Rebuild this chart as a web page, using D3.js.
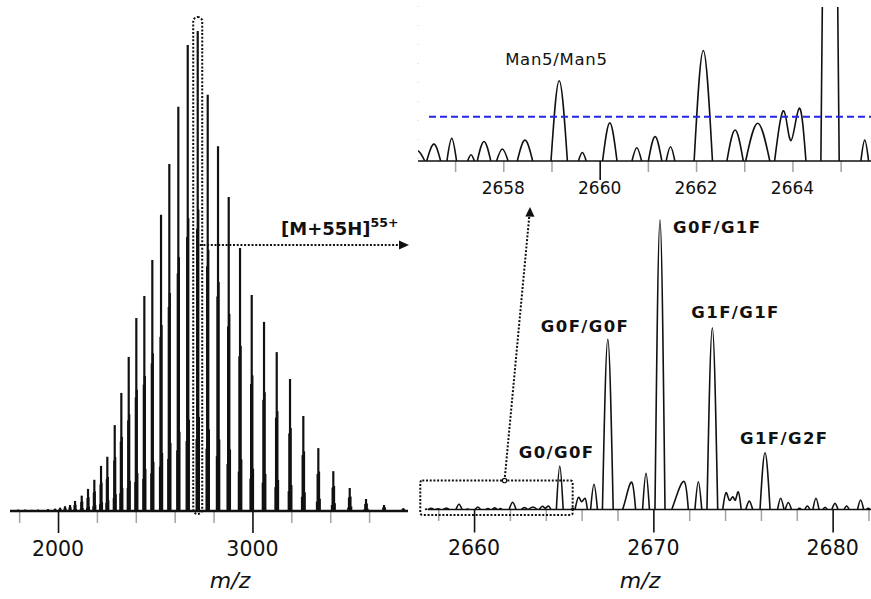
<!DOCTYPE html>
<html>
<head>
<meta charset="utf-8">
<script src="https://cdn.jsdelivr.net/npm/d3@7"></script>
<style>
  html, body { margin: 0; padding: 0; background: #fff; }
  svg { display: block; font-family: "DejaVu Sans", Verdana, sans-serif; }
</style>
</head>
<body>
<svg id="chart" width="871" height="599"></svg>
<script>
// ---- Charge-state envelope of the intact antibody (m/z, relative intensity %) ----
const chargeStateMz = [1794.4, 1830.3, 1864.7, 1897.1, 1948.6, 1984.6, 2010.3, 2036.0, 2061.7, 2087.4,
  2121.9, 2154.3, 2186.7, 2221.2, 2253.6, 2291.6, 2325.6, 2363.6, 2402.7, 2443.9,
  2485.0, 2529.8, 2572.4, 2618.7, 2667.1, 2718.5, 2769.9, 2822.9, 2877.9, 2936.1,
  2996.2, 3059.5, 3124.8, 3193.2, 3261.6, 3338.8, 3415.9, 3500.3, 3584.1, 3676.7, 3775.9];
const chargeStateIntensity = [0.3, 0.3, 0.25, 0.3, 0.4, 0.5, 0.7, 1.0, 1.25, 2.1,
  3.2, 4.6, 6.5, 9.4, 11.3, 17.9, 24.6, 32.1, 40.2, 44.8,
  52.3, 61.7, 72.3, 84.2, 97.1, 100, 86.7, 76.0, 65.4, 54.8,
  45.0, 39.4, 33.1, 27.5, 19.8, 13.1, 8.3, 4.8, 2.5, 1.25, 0.6];
const selectedChargeMz = 2718.5;          // the 55+ ion expanded on the right

// ---- Glycoform peaks of the 55+ charge state ----
const glycoformLabels = ["G0/G0F", "G0F/G0F", "G0F/G1F", "G1F/G1F", "G1F/G2F"];
const glycoformMz = [2664.78, 2667.46, 2670.37, 2673.29, 2676.23];
const glycoformIntensity = [15.0, 58.8, 100, 62.8, 19.6];
const glycoformHalfWidth = [0.19, 0.30, 0.28, 0.30, 0.28];

// Low-abundance species labelled in the expanded view
const minorLabel = "Man5/Man5";
const minorLabelMz = 2659.16;
const minorLabelIntensity = 1.81;

// Threshold drawn across the expanded view (% of base peak)
const thresholdLevel = 1.0;

// ---- Minor profile features: each group is the outline of one peak (m/z, intensity %) ----
const minorPeakProfiles = [
  [[2656.07, 0], [2656.22, 0.23], [2656.37, 0]],
  [[2656.41, 0], [2656.56, 0.38], [2656.70, 0]],
  [[2656.83, 0], [2656.93, 0.51], [2657.03, 0]],
  [[2657.26, 0], [2657.33, 0.14], [2657.40, 0]],
  [[2657.46, 0], [2657.60, 0.44], [2657.74, 0]],
  [[2657.86, 0], [2657.98, 0.27], [2658.10, 0]],
  [[2658.29, 0], [2658.45, 0.47], [2658.61, 0]],
  [[2658.99, 0], [2659.16, 1.81], [2659.33, 0]],
  [[2659.56, 0], [2659.64, 0.19], [2659.72, 0]],
  [[2660.06, 0], [2660.21, 0.86], [2660.36, 0]],
  [[2660.67, 0], [2660.77, 0.30], [2660.87, 0]],
  [[2661.01, 0], [2661.15, 0.55], [2661.29, 0]],
  [[2661.38, 0], [2661.47, 0.32], [2661.56, 0]],
  [[2661.96, 0], [2662.15, 2.49], [2662.34, 0]],
  [[2662.64, 0], [2662.81, 0.70], [2662.98, 0]],
  [[2663.03, 0], [2663.28, 0.85], [2663.53, 0]],
  [[2663.63, 0], [2663.82, 1.13], [2663.97, 0.46], [2664.14, 1.19], [2664.28, 0]],
  [[2665.42, 0], [2665.50, 0.47], [2665.58, 0]],
  [[2665.63, 0], [2665.82, 4.2], [2666.00, 2.7], [2666.19, 3.9], [2666.32, 0]],
  [[2666.50, 0], [2666.69, 8.7], [2666.88, 0]],
  [[2668.29, 0], [2668.48, 4.2], [2668.80, 9.4], [2669.01, 0]],
  [[2669.40, 0], [2669.59, 12.5], [2669.78, 0]],
  [[2671.03, 0], [2671.31, 5.0], [2671.73, 9.6], [2671.95, 0]],
  [[2672.32, 0], [2672.51, 9.6], [2672.70, 0]],
  [[2673.87, 0], [2674.05, 5.8], [2674.24, 3.2], [2674.43, 4.4], [2674.58, 3.3], [2674.74, 6.1], [2674.90, 0]],
  [[2675.16, 0], [2675.35, 2.9], [2675.54, 0]],
  [[2676.93, 0], [2677.10, 3.9], [2677.29, 0]],
  [[2677.36, 0], [2677.53, 2.4], [2677.70, 0]],
  [[2678.05, 0], [2678.15, 0.4], [2678.25, 0]],
  [[2678.45, 0], [2678.59, 1.2], [2678.73, 0]],
  [[2678.90, 0], [2679.07, 3.9], [2679.24, 0]],
  [[2679.46, 0], [2679.58, 0.8], [2679.70, 0]],
  [[2679.96, 0], [2680.13, 2.1], [2680.30, 0]],
  [[2680.64, 0], [2680.78, 1.2], [2680.92, 0]],
  [[2681.39, 0], [2681.56, 3.3], [2681.73, 0]],
  [[2681.89, 0], [2681.99, 0.4], [2682.09, 0]]
];

// ---- Tick values ----
const overviewMajorTicks = [2000, 3000];
const overviewMinorTicks = [1800, 2200, 2400, 2600, 2800, 3200, 3400, 3600];
const zoomMajorTicks = [2660, 2670, 2680];
const zoomMinorTicks = [2658, 2662, 2664, 2666, 2668, 2672, 2674, 2676, 2678, 2682];
const insetMajorTicks = [2660];
const insetMinorTicks = [2657, 2658, 2659, 2661, 2662, 2663, 2664, 2665];
const insetTickLabels = [2658, 2660, 2662, 2664];
const axisTitle = "m/z";

// ---- Layout ----
const ink = "#111";
const svg = d3.select("#chart");

const xL = d3.scaleLinear().domain([1753, 3800]).range([10, 408]);
const yL = d3.scaleLinear().domain([0, 100]).range([511, 31]);
const xR = d3.scaleLinear().domain([2657.43, 2682.14]).range([428, 871]);
const yR = d3.scaleLinear().domain([0, 100]).range([509.5, 220]);
const xI = d3.scaleLinear().domain([2656.23, 2665.63]).range([418, 871]);
const yI = d3.scaleLinear().domain([0, 3.45]).range([161, 8]);

// Tick helper built on d3.axisBottom
function ticks(g, scale, values, size, color, width) {
  g.call(d3.axisBottom(scale).tickValues(values).tickSize(size).tickSizeOuter(0).tickFormat(""));
  g.select(".domain").remove();
  g.selectAll(".tick line").attr("stroke", color).attr("stroke-width", width);
}
function tickLabels(g, scale, values, y, size) {
  g.selectAll("text").data(values).join("text")
    .attr("x", d => scale(d)).attr("y", y)
    .attr("text-anchor", "middle").attr("font-size", size).attr("fill", ink)
    .text(d => d);
}
function applyAttrs(sel, attrs) {
  Object.entries(attrs).forEach(([k, v]) => sel.attr(k, v));
}

// ================= Overview spectrum (left) =================
const left = svg.append("g");
ticks(left.append("g").attr("transform", `translate(0,${yL(0)})`), xL, overviewMinorTicks, 12, "#a3a3a3", 1.5);
ticks(left.append("g").attr("transform", `translate(0,${yL(0)})`), xL, overviewMajorTicks, 22, ink, 1.6);
tickLabels(left.append("g"), xL, overviewMajorTicks, 556, 20.5);

// each charge state is a cluster of glycoform sticks
const refMz = glycoformMz[2];
const order = d3.range(glycoformMz.length).sort((a, b) => glycoformIntensity[a] - glycoformIntensity[b]);
const sticks = [];
chargeStateMz.forEach((mz, i) => {
  order.forEach(g => {
    sticks.push({
      mz: mz + (glycoformMz[g] - refMz) * mz / refMz,
      int: chargeStateIntensity[i] * glycoformIntensity[g] / 100
    });
  });
});
left.append("g").selectAll("line").data(sticks).join("line")
  .attr("x1", d => xL(d.mz)).attr("x2", d => xL(d.mz))
  .attr("y1", yL(0)).attr("y2", d => yL(d.int))
  .attr("stroke", ink).attr("stroke-width", 2.2);

left.append("line")
  .attr("x1", xL.range()[0]).attr("x2", xL.range()[1])
  .attr("y1", yL(0)).attr("y2", yL(0))
  .attr("stroke", ink).attr("stroke-width", 2.6);

left.append("text").attr("x", d3.mean(xL.range()) + 21).attr("y", 588)
  .attr("text-anchor", "middle").attr("font-size", 22).attr("font-style", "italic")
  .attr("fill", ink).text(axisTitle);

// dotted frame around the selected charge state and arrow to the expansion
const dotted = { stroke: ink, "stroke-width": 2, "stroke-dasharray": "2,1.7", fill: "none" };
const selX = xL(selectedChargeMz);
left.append("rect").attr("x", selX - 4.5).attr("y", 17).attr("width", 9).attr("height", 497)
  .attr("rx", 4.5).call(applyAttrs, dotted);
left.append("line").attr("x1", selX + 2).attr("x2", 400).attr("y1", 245).attr("y2", 245)
  .call(applyAttrs, dotted);
left.append("path").attr("d", "M409,245 L399,240.5 L399,249.5 Z").attr("fill", ink);

const chargeLabel = left.append("text").attr("x", 281).attr("y", 235)
  .attr("font-size", 18).attr("font-weight", "bold").attr("fill", ink);
chargeLabel.append("tspan").text("[M+55H]");
chargeLabel.append("tspan").attr("font-size", 12.5).attr("dy", -8).text("55+");

// ================= Expanded 55+ ion (right) =================
const right = svg.append("g");
ticks(right.append("g").attr("transform", `translate(0,${yR(0)})`), xR, zoomMinorTicks, 11.5, "#a3a3a3", 1.5);
ticks(right.append("g").attr("transform", `translate(0,${yR(0)})`), xR, zoomMajorTicks, 23, ink, 1.6);
tickLabels(right.append("g"), xR, zoomMajorTicks, 555, 20.5);

const glycoProfiles = glycoformMz.map((mz, i) => [
  [mz - glycoformHalfWidth[i], 0], [mz, glycoformIntensity[i]], [mz + glycoformHalfWidth[i], 0]
]);
const allProfiles = minorPeakProfiles.concat(glycoProfiles);

const lineR = d3.line().x(d => xR(d[0])).y(d => yR(d[1])).curve(d3.curveNatural);
right.append("g").selectAll("path").data(allProfiles.filter(p => p[0][0] >= xR.domain()[0] - 0.3))
  .join("path").attr("d", lineR)
  .attr("fill", "none").attr("stroke", ink).attr("stroke-width", 1.6);

right.append("line")
  .attr("x1", xR.range()[0]).attr("x2", xR.range()[1])
  .attr("y1", yR(0)).attr("y2", yR(0))
  .attr("stroke", ink).attr("stroke-width", 1.7);

// glycoform labels, offset from each apex
const labelOffsets = [[-41, -8], [-67, -7], [13, 13], [-21, -10], [-25, -9]];
right.append("g").selectAll("text").data(glycoformLabels).join("text")
  .attr("x", (d, i) => xR(glycoformMz[i]) + labelOffsets[i][0])
  .attr("y", (d, i) => yR(glycoformIntensity[i]) + labelOffsets[i][1])
  .attr("font-size", 16.5).attr("font-weight", "bold").attr("letter-spacing", 1.4)
  .attr("fill", ink).text(d => d);

right.append("text").attr("x", 640).attr("y", 588)
  .attr("text-anchor", "middle").attr("font-size", 22).attr("font-style", "italic")
  .attr("fill", ink).text(axisTitle);

// dotted frame over the low-abundance region and arrow to the inset
const boxX0 = xR(2657.0), boxX1 = xR(2665.5), boxTop = yR(10);
right.append("rect").attr("x", boxX0).attr("y", boxTop).attr("width", boxX1 - boxX0)
  .attr("height", yR(0) + 5.5 - boxTop).attr("rx", 2)
  .call(applyAttrs, dotted);
const arrowX0 = xR(2661.7);
right.append("line").attr("x1", arrowX0).attr("y1", boxTop).attr("x2", 529.3).attr("y2", 216)
  .call(applyAttrs, dotted);
right.append("circle").attr("cx", arrowX0).attr("cy", boxTop).attr("r", 2.2)
  .attr("fill", "#fff").attr("stroke", ink).attr("stroke-width", 1.2);
right.append("path").attr("d", "M530,207 L525.3,216.5 L534.5,216.8 Z").attr("fill", ink);

// ================= Inset: low-abundance region =================
const inset = svg.append("g");
svg.append("defs").append("clipPath").attr("id", "insetClip")
  .append("rect").attr("x", xI.range()[0]).attr("y", 7)
  .attr("width", xI.range()[1] - xI.range()[0]).attr("height", yI(0) - 6);

inset.append("line").attr("x1", xI.range()[0]).attr("x2", xI.range()[0])
  .attr("y1", 6).attr("y2", yI(0)).attr("stroke", "#d4d4d4").attr("stroke-width", 1)
  .attr("stroke-dasharray", "1,18");

ticks(inset.append("g").attr("transform", `translate(0,${yI(0)})`), xI, insetMinorTicks, 11, "#a3a3a3", 1.5);
ticks(inset.append("g").attr("transform", `translate(0,${yI(0)})`), xI, insetMajorTicks, 19, ink, 1.6);
tickLabels(inset.append("g"), xI, insetTickLabels, 194, 17);

const lineI = d3.line().x(d => xI(d[0])).y(d => yI(d[1])).curve(d3.curveNatural);
inset.append("g").attr("clip-path", "url(#insetClip)")
  .selectAll("path").data(allProfiles.filter(p => p[0][0] < xI.domain()[1]))
  .join("path").attr("d", lineI)
  .attr("fill", "none").attr("stroke", ink).attr("stroke-width", 1.6);

inset.append("line")
  .attr("x1", xI.range()[0]).attr("x2", xI.range()[1])
  .attr("y1", yI(0)).attr("y2", yI(0))
  .attr("stroke", ink).attr("stroke-width", 1.6);

inset.append("line")
  .attr("x1", 429).attr("x2", xI.range()[1])
  .attr("y1", yI(thresholdLevel)).attr("y2", yI(thresholdLevel))
  .attr("stroke", "#2424e6").attr("stroke-width", 2).attr("stroke-dasharray", "7,4");

inset.append("text")
  .attr("x", xI(minorLabelMz) - 54).attr("y", yI(minorLabelIntensity) - 16)
  .attr("font-size", 16.5).attr("letter-spacing", 0.7).attr("fill", ink).text(minorLabel);
</script>
</body>
</html>
